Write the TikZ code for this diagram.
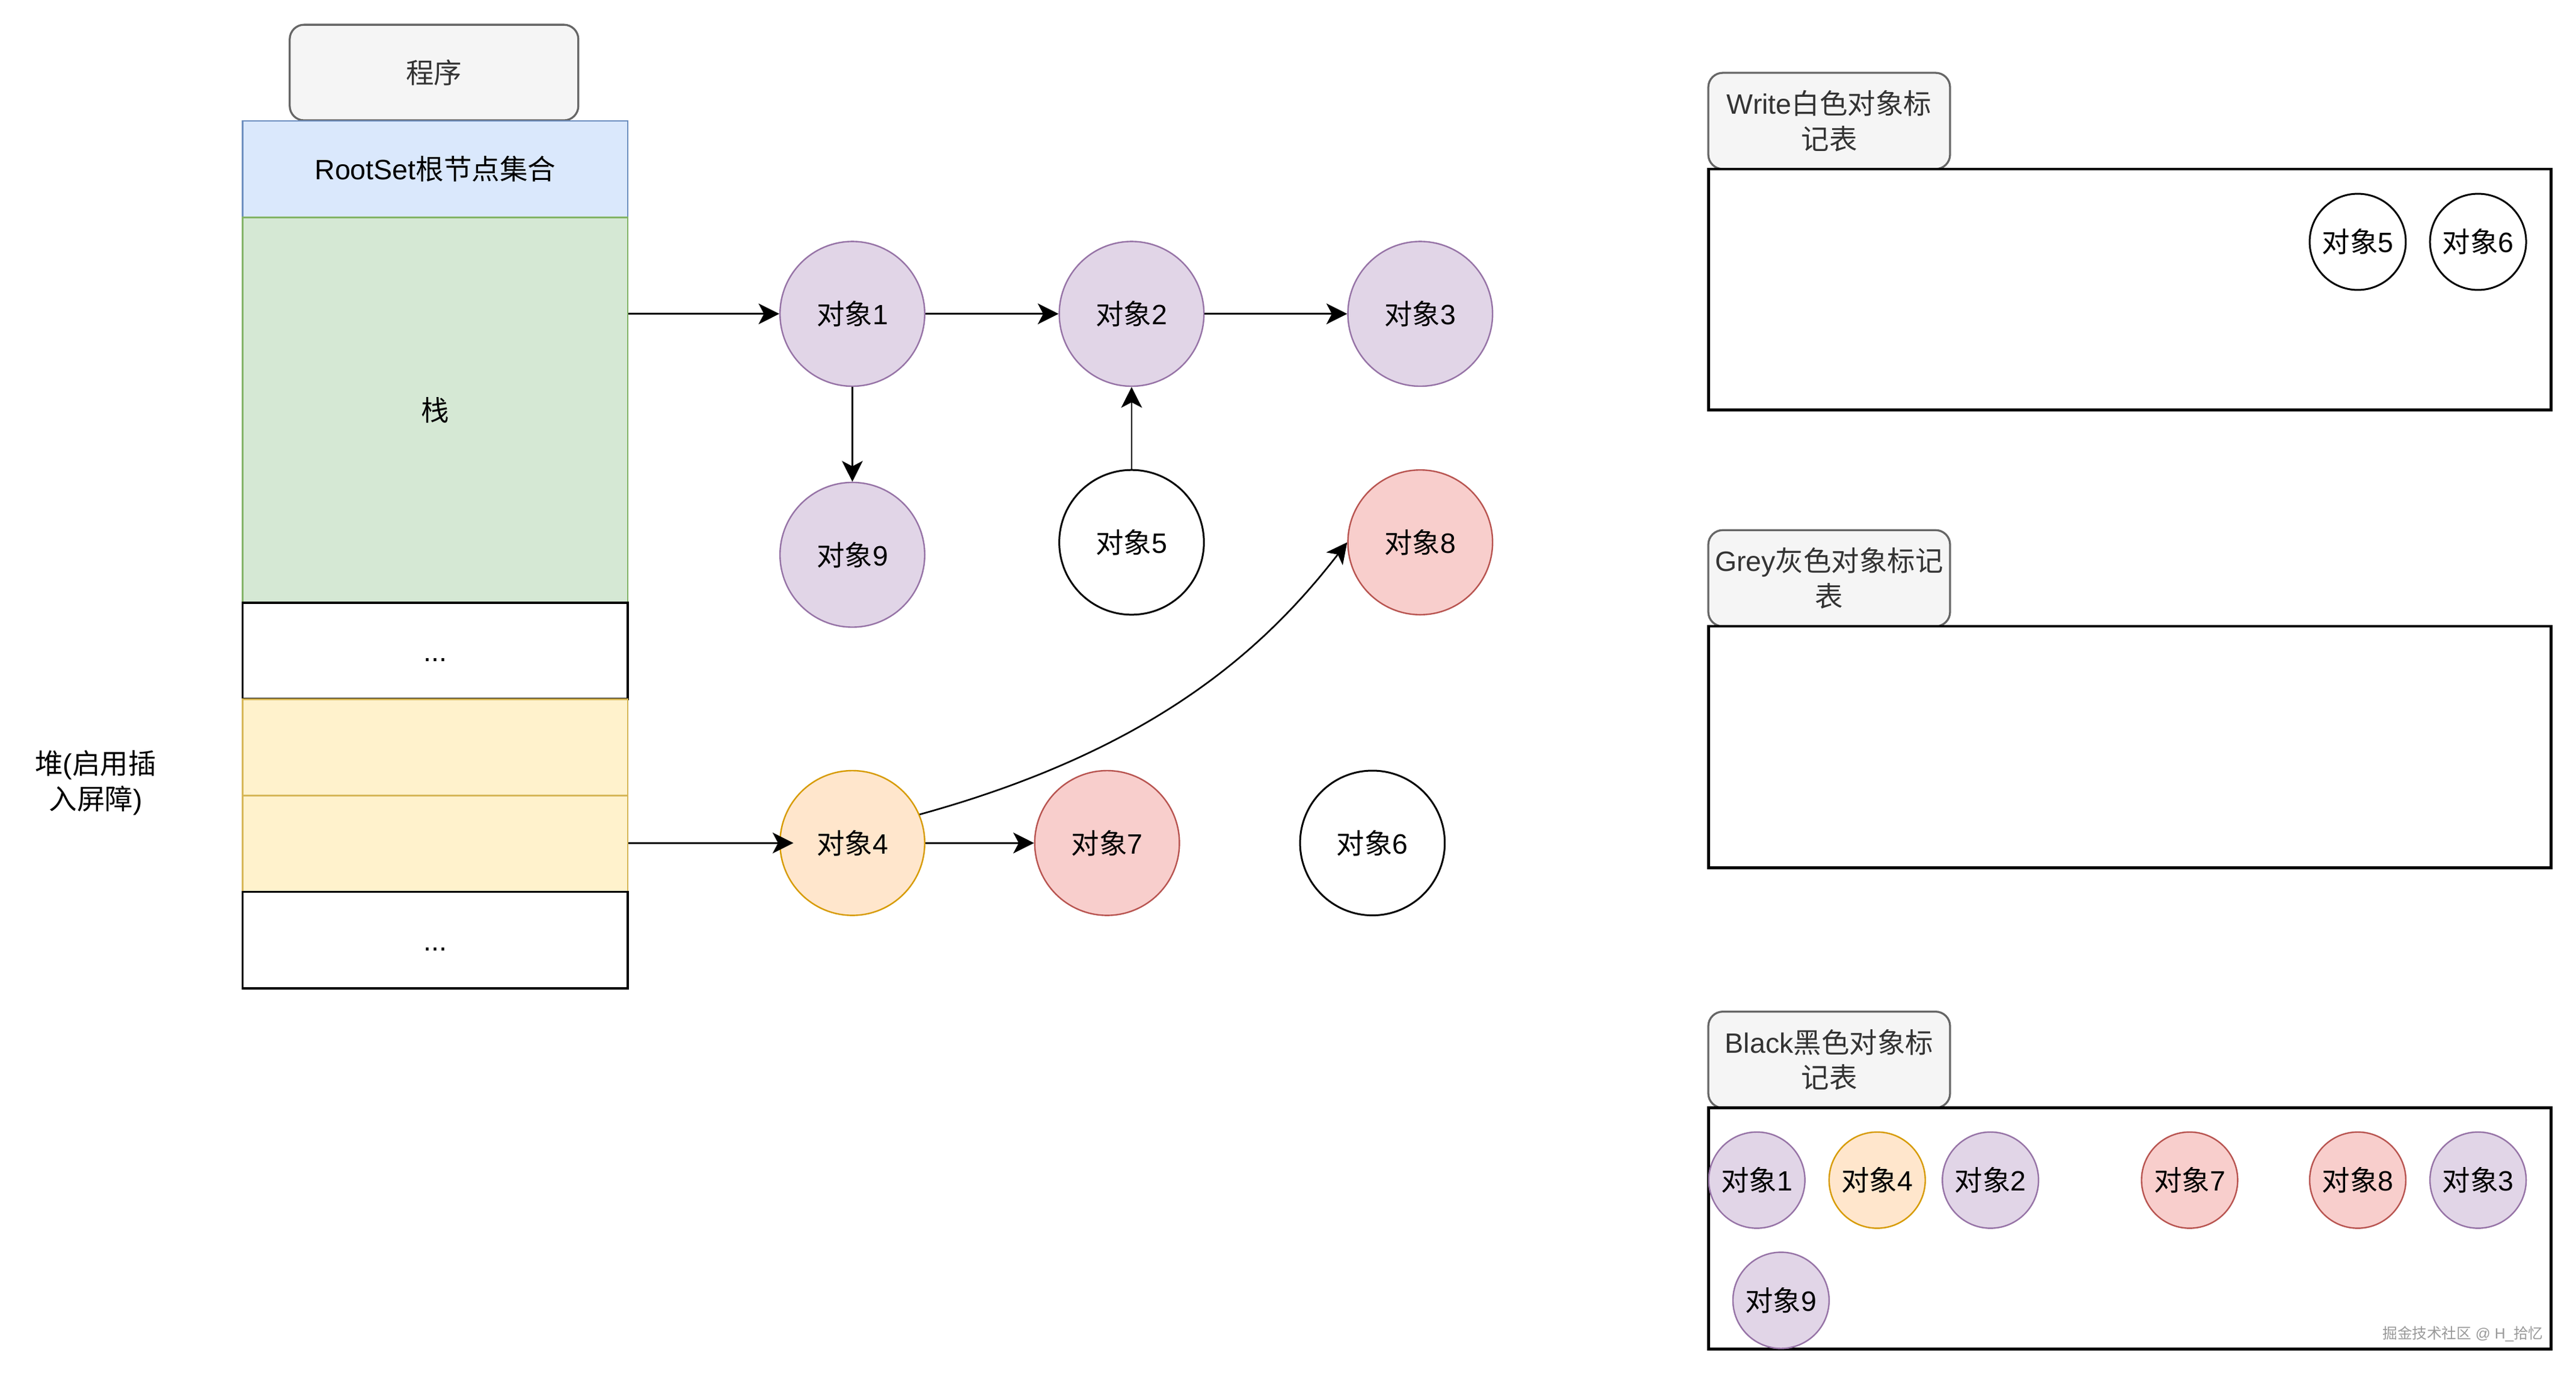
\documentclass[tikz,border=0pt]{standalone}
\usepackage{fontspec}
\setmainfont{Liberation Sans}
\newfontfamily\cjk{Noto Sans CJK SC}
\usetikzlibrary{arrows.meta}
\definecolor{lblfill}{HTML}{F5F5F5}
\definecolor{lbldraw}{HTML}{666666}
\definecolor{lbltext}{HTML}{333333}
\definecolor{bluefill}{HTML}{DAE8FC}
\definecolor{bluedraw}{HTML}{6C8EBF}
\definecolor{greenfill}{HTML}{D5E8D4}
\definecolor{greendraw}{HTML}{82B366}
\definecolor{yelfill}{HTML}{FFF2CC}
\definecolor{yeldraw}{HTML}{D6B656}
\definecolor{purfill}{HTML}{E1D5E7}
\definecolor{purdraw}{HTML}{9673A6}
\definecolor{orgfill}{HTML}{FFE6CC}
\definecolor{orgdraw}{HTML}{D79B00}
\definecolor{redfill}{HTML}{F8CECC}
\definecolor{reddraw}{HTML}{B85450}
\newcommand\dx{{\cjk 对象}}
\begin{document}
\begin{tikzpicture}[x=1pt,y=-1pt,
  font=\fontsize{15.5}{19.5}\selectfont,
  cell/.style={draw, minimum width=213.5pt, inner sep=0pt, line width=0.9pt},
  lbl/.style={draw=lbldraw, fill=lblfill, text=lbltext, rounded corners=8pt,
    line width=1.1pt, minimum width=134pt, minimum height=53.3pt, inner sep=0pt, align=center},
  tbl/.style={draw=black, line width=1.5pt, fill=white},
  obj/.style={circle, minimum size=80.2pt, inner sep=0pt, line width=0.8pt},
  sobj/.style={circle, minimum size=53.3pt, inner sep=0pt, line width=0.8pt},
  pur/.style={draw=purdraw, fill=purfill},
  org/.style={draw=orgdraw, fill=orgfill},
  red/.style={draw=reddraw, fill=redfill},
  wht/.style={draw=black, fill=white, line width=1pt},
  arr/.style={-{Stealth[length=11.5pt, width=11.5pt, inset=3pt]}, line width=0.9pt}
]
\useasboundingbox (0,0) rectangle (1428,761.33);
\fill[white] (0,0) rectangle (1428,761.33);

% program column
\node[lbl, minimum width=160pt, minimum height=53pt] (prog) at (240.6,40.2) {{\cjk 程序}};
\node[cell, draw=bluedraw, fill=bluefill, minimum height=53.4pt] (root) at (241.25,93.7) {RootSet{\cjk 根节点集合}};
\node[cell, draw=greendraw, fill=greenfill, minimum height=213.6pt] (stack) at (241.25,227.2) {{\cjk 栈}};
\node[cell, draw=black, fill=white, line width=1.2pt, minimum height=53.4pt] (dots1) at (241.25,360.7) {\vphantom{\cjk 对}...};
\node[cell, draw=yeldraw, fill=yelfill, minimum height=53.4pt] (y1) at (241.25,414.1) {};
\node[cell, draw=yeldraw, fill=yelfill, minimum height=53.4pt] (y2) at (241.25,467.5) {};
\node[cell, draw=black, fill=white, line width=1.2pt, minimum height=53.4pt] (dots2) at (241.25,520.9) {\vphantom{\cjk 对}...};
\node[align=center] (heap) at (53,433.7) {{\cjk 堆}({\cjk 启用插}\\{\cjk 入屏障})};

% object graph
\node[obj, pur] (o1) at (472.5,173.9) {\dx1};
\node[obj, pur] (o2) at (627.3,173.9) {\dx2};
\node[obj, pur] (o3) at (787.3,173.9) {\dx3};
\node[obj, pur] (o9) at (472.5,307.4) {\dx9};
\node[obj, wht] (o5) at (627.3,300.5) {\dx5};
\node[obj, red] (o8) at (787.3,300.5) {\dx8};
\node[obj, org] (o4) at (472.5,467.1) {\dx4};
\node[obj, red] (o7) at (613.7,467.1) {\dx7};
\node[obj, wht] (o6) at (760.8,467.1) {\dx6};

\draw[arr] (o1 -| stack.east) -- (o1);
\draw[arr] (o4 -| y2.east) -- ([xshift=7.8pt]o4.west);
\draw[arr] (o1) -- (o2);
\draw[arr] (o2) -- (o3);
\draw[arr] (o1) -- (o9);
\draw[arr] (o5) -- (o2);
\draw[arr] (o4) -- (o7);
\draw[arr] (o4.23) .. controls (638,416) and (700,361) .. (o8.west);

% Write table
\node[lbl] (wlbl) at (1014,67) {Write{\cjk 白色对象标}\\{\cjk 记表}};
\node[tbl, minimum width=467pt, minimum height=133.5pt, inner sep=0pt] (wtbl) at (1180.6,160.4) {};
\node[sobj, wht] (w5) at (1307,134) {\dx5};
\node[sobj, wht] (w6) at (1373.7,134) {\dx6};

% Grey table
\node[lbl] (glbl) at (1014,320.4) {Grey{\cjk 灰色对象标记}\\{\cjk 表}};
\node[tbl, minimum width=467pt, minimum height=133.9pt, inner sep=0pt] (gtbl) at (1180.6,413.9) {};

% Black table
\node[lbl] (blbl) at (1014,587.2) {Black{\cjk 黑色对象标}\\{\cjk 记表}};
\node[tbl, minimum width=467pt, minimum height=133.7pt, inner sep=0pt] (btbl) at (1180.6,680.6) {};
\node[sobj, pur] (b1) at (973.9,653.9) {\dx1};
\node[sobj, org] (b4) at (1040.6,653.9) {\dx4};
\node[sobj, pur] (b2) at (1103.4,653.9) {\dx2};
\node[sobj, red] (b7) at (1213.8,653.9) {\dx7};
\node[sobj, red] (b8) at (1307,653.9) {\dx8};
\node[sobj, pur] (b3) at (1373.7,653.9) {\dx3};
\node[sobj, pur] (b9) at (987.3,720.5) {\dx9};

\node[anchor=east, text=black!40, font=\fontsize{8.2}{10}\selectfont, inner sep=0pt] (wm) at (1410,739) {{\cjk 掘金技术社区} @ H\_{\cjk 拾忆}};
\end{tikzpicture}
\end{document}
